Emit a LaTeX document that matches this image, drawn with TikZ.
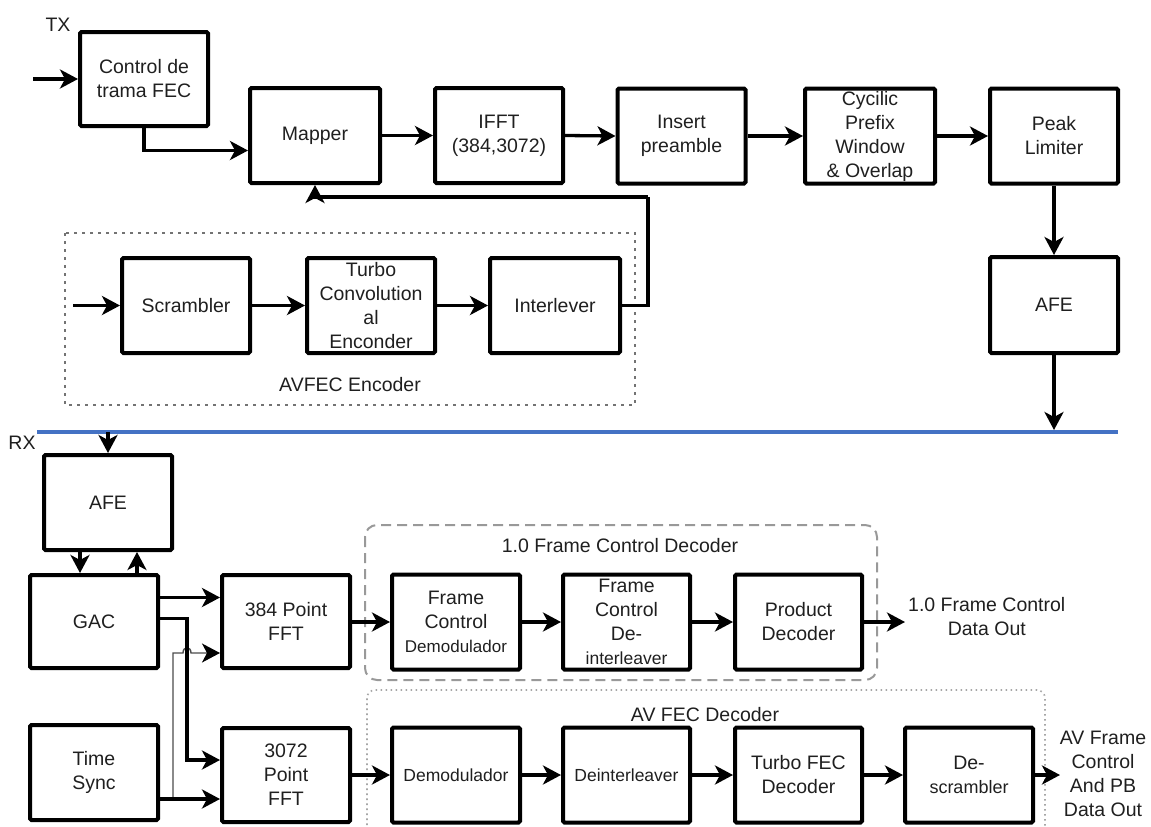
\documentclass[tikz,border=0pt]{standalone}
\usepackage{fontspec}
\setmainfont{Liberation Sans}
\usetikzlibrary{arrows.meta}
\begin{document}
\begin{tikzpicture}[x=1pt,y=-1pt,
  txt/.style={text=black!88, font=\fontsize{19.5}{24}\selectfont, align=center, inner sep=0pt},
  blk/.style={txt, draw=black, line width=4pt, rounded corners=1.5pt, minimum width=128pt, minimum height=95pt},
  headtip/.style={-{Stealth[length=18pt,width=19pt,inset=5pt,color=black]}},
  arr/.style={line width=3.3pt, headtip},
  thinarr/.style={line width=1.4pt, draw=black!70, headtip},
  bus/.style={line width=4pt, draw={rgb,255:red,68;green,114;blue,196}},
  grpdot/.style={draw=black!55, line width=2.8pt, dash pattern=on 3pt off 5pt},
  grpdash/.style={draw=black!40, line width=2pt, dash pattern=on 10pt off 6pt, rounded corners=12pt},
  grplight/.style={draw=black!35, line width=1.6pt, dash pattern=on 1.6pt off 3.4pt, rounded corners=8pt},
  sm/.style={font=\fontsize{17.5}{22}\selectfont}
]
\useasboundingbox (0,0) rectangle (1151,827);

% ---------------- transmitter ----------------
\node[txt] (txlbl) at (58,25) {TX};
\node[blk, minimum height=94pt] (ctrl) at (144,79) {Control de\\trama FEC};
\node[blk, minimum width=130pt] (mapper) at (315,135.5) {Mapper};
\node[blk] (ifft) at (499,135.5) {IFFT\\(384,3072)};
\node[blk] (insert) at (681.5,136) {Insert\\preamble};
\node[blk, minimum width=130pt] (cyclic) at (870,136) {Cycilic\\Prefix\\Window\\\& Overlap};
\node[blk] (peak) at (1054,136) {Peak\\Limiter};
\node[blk, minimum height=96pt] (afetx) at (1054,305) {AFE};

% AVFEC encoder group
\draw[grpdot] (65,233) rectangle (635,405);
\node[txt] (enclbl) at (350,385) {AVFEC Encoder};
\node[blk] (scr) at (186,305.5) {Scrambler};
\node[blk] (turbo) at (371,305.5) {Turbo\\Convolution\\al\\Enconder};
\node[blk, minimum width=130pt] (inter) at (555,305.5) {Interlever};

\coordinate (txin) at (33,79);
\coordinate (encin) at (73,305.5);
\coordinate (fb) at (648,197);
\coordinate (busL) at (37,432);
\coordinate (busR) at (1118,432);
\coordinate (busT) at (1054,430);

\draw[arr] (txin) -- (ctrl.west);
\draw[arr] (ctrl.south) |- ([yshift=-15pt]mapper.west);
\draw[arr] (mapper.east) -- (ifft.west);
\draw[arr] (ifft.east) -- (insert.west);
\draw[arr] (insert.east) -- (cyclic.west);
\draw[arr] (cyclic.east) -- (peak.west);
\draw[arr] (peak.south) -- (afetx.north);
\draw[arr] (afetx.south) -- (busT);
\draw[arr] (encin) -- (scr.west);
\draw[arr] (scr.east) -- (turbo.west);
\draw[arr] (turbo.east) -- (inter.west);
\draw[line width=3.3pt] (inter.east) -| (fb);
\draw[arr] (fb) -| (mapper.south);

% medium
\draw[bus] (busL) -- (busR);

% ---------------- receiver ----------------
\node[txt] (rxlbl) at (22,443) {RX};
\node[blk] (afe) at (108,502.5) {AFE};
\node[blk, minimum height=93pt] (gac) at (94,621.5) {GAC};
\node[blk] (ts) at (94,772.5) {Time\\Sync};
\node[blk, minimum height=93pt] (fft384) at (286,621.5) {384 Point\\FFT};
\node[blk, minimum height=94pt] (fft3072) at (286,775) {3072\\Point\\FFT};

\draw[arr] (afe.north |- busL) -- (afe.north);
\draw[arr] ([xshift=-28pt]afe.south) -- ([xshift=-28pt]afe.south |- gac.north);
\draw[arr] ([xshift=29pt]afe.south |- gac.north) -- ([xshift=29pt]afe.south);

\coordinate (jx) at (187,760);
\coordinate (tsj) at (173,799);
\coordinate (tsk) at (173,653);
\coordinate (hopA) at (183,653);
\coordinate (hopB) at (191,653);

\draw[arr] ([yshift=24pt]gac.east) -- ([yshift=24pt]gac.east -| fft384.west);
\draw[thinarr] (tsj) -- (tsk) -- (hopA) .. controls (183,646) and (191,646) .. (hopB) -- (hopB -| fft384.west);
\draw[arr] ([yshift=3pt]gac.east) -| (jx) -- (jx -| fft3072.west);
\draw[arr] ([yshift=-26.5pt]ts.east) -- ([yshift=-26.5pt]ts.east -| fft3072.west);

% 1.0 frame control decoder group
\draw[grpdash] (365,525) rectangle (877,680);
\node[txt] (fcdlbl) at (620,546) {1.0 Frame Control Decoder};
\node[blk] (fcd) at (456,622) {Frame\\Control\\{\fontsize{17}{22}\selectfont Demodulador}};
\node[blk, minimum width=127pt] (fcdi) at (626.5,622) {Frame\\Control\\De-\\{\fontsize{17.5}{22}\selectfont interleaver}};
\node[blk, minimum width=127pt] (prod) at (798.5,622) {Product\\Decoder};
\node[txt, anchor=west] (fcout) at (908,617) {1.0 Frame Control\\Data Out};
\coordinate (fcend) at (905,622);

\draw[arr] (fft384.east |- fcd.west) -- (fcd.west);
\draw[arr] (fcd.east) -- (fcdi.west);
\draw[arr] (fcdi.east) -- (prod.west);
\draw[arr] (prod.east) -- (fcend);

% AV FEC decoder group
\draw[grplight] (367,835) -- (367,690) -- (1045,690) -- (1045,835);
\node[txt] (avlbl) at (705,715) {AV FEC Decoder};
\node[blk, sm] (demod) at (456,775) {Demodulador};
\node[blk, sm, minimum width=127pt] (deint) at (626.5,775) {Deinterleaver};
\node[blk, minimum width=127pt] (tfec) at (798.5,775) {Turbo FEC\\Decoder};
\node[blk] (descr) at (969,775) {De-\\{\fontsize{18}{22}\selectfont scrambler}};
\node[txt] (avout) at (1103,774) {AV Frame\\Control\\And PB\\Data Out};
\coordinate (avend) at (1060,775);

\draw[arr] (fft3072.east) -- (demod.west);
\draw[arr] (demod.east) -- (deint.west);
\draw[arr] (deint.east) -- (tfec.west);
\draw[arr] (tfec.east) -- (descr.west);
\draw[arr] (descr.east) -- (avend);
\end{tikzpicture}
\end{document}
